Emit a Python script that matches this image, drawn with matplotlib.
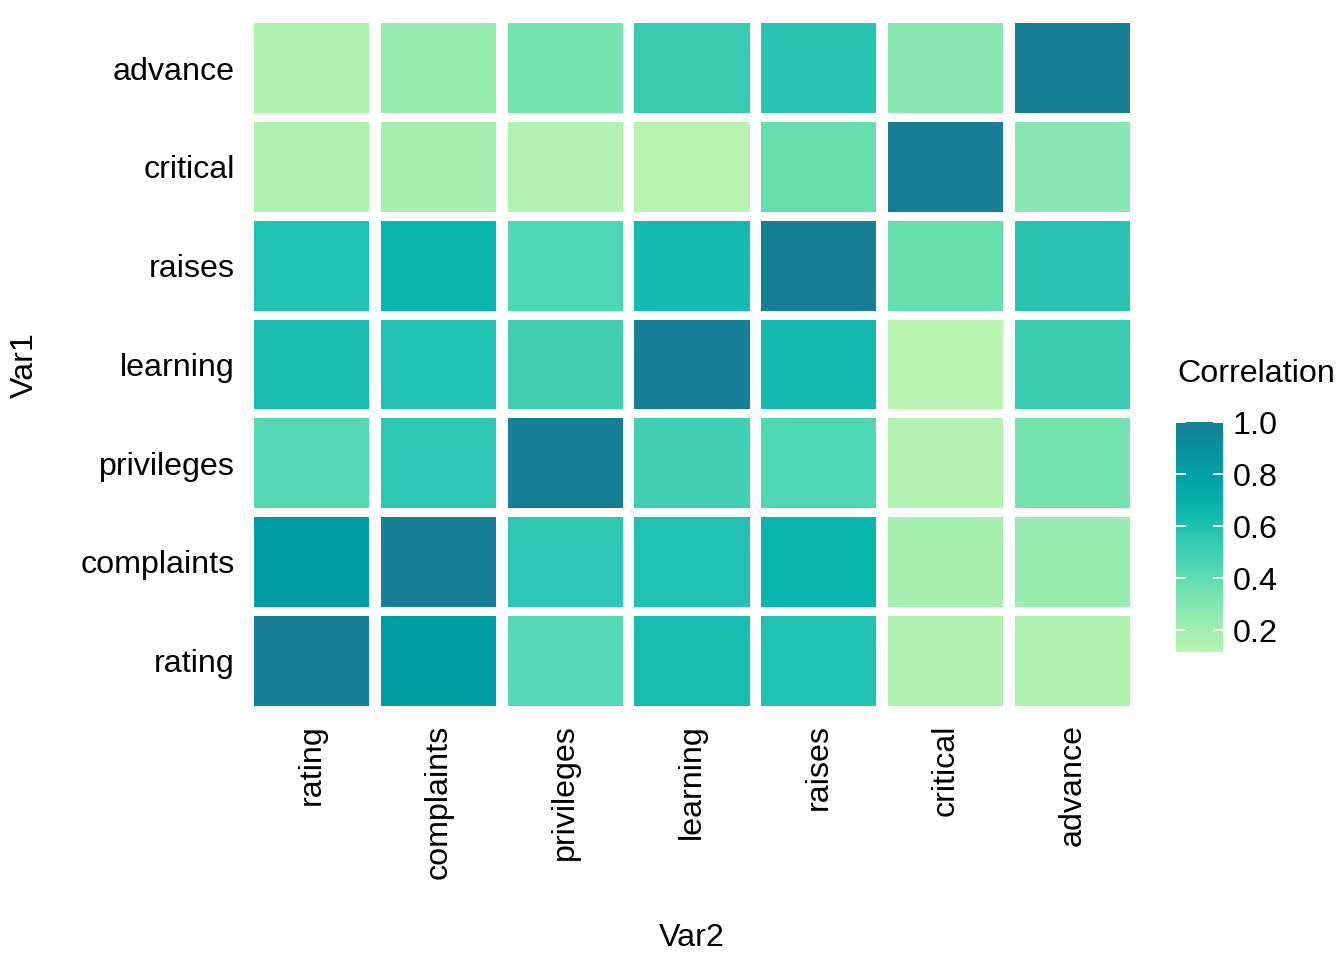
import matplotlib
matplotlib.use("Agg")
import matplotlib.pyplot as plt
from matplotlib.patches import Rectangle
from matplotlib.colors import LinearSegmentedColormap, Normalize
from matplotlib.cm import ScalarMappable

plt.rcParams['font.family'] = ['Liberation Sans', 'DejaVu Sans']

variables = ["rating", "complaints", "privileges", "learning", "raises", "critical", "advance"]

# correlation rows (Var1), columns follow `variables` (Var2)
rating     = [1.000, 0.825, 0.426, 0.624, 0.590, 0.156, 0.155]
complaints = [0.825, 1.000, 0.558, 0.597, 0.669, 0.188, 0.225]
privileges = [0.426, 0.558, 1.000, 0.493, 0.445, 0.147, 0.343]
learning   = [0.624, 0.597, 0.493, 1.000, 0.640, 0.116, 0.532]
raises     = [0.590, 0.669, 0.445, 0.640, 1.000, 0.377, 0.574]
critical   = [0.156, 0.188, 0.147, 0.116, 0.377, 1.000, 0.283]
advance    = [0.155, 0.225, 0.343, 0.532, 0.574, 0.283, 1.000]
corr = [rating, complaints, privileges, learning, raises, critical, advance]

cbar_ticks = [0.2, 0.4, 0.6, 0.8, 1.0]

vmin = min(min(r) for r in corr)
vmax = max(max(r) for r in corr)

# colour stops
stop_vals = [0.116, 0.2246, 0.343, 0.445, 0.558, 0.669, 0.825, 1.0]
stop_cols = ["#b9f3b0", "#9becb2", "#73e2af", "#4fd6b3", "#2ec6b0", "#0ab5af", "#009ca3", "#177f96"]
cmap = LinearSegmentedColormap.from_list(
    "corr", [((v - vmin) / (vmax - vmin), c) for v, c in zip(stop_vals, stop_cols)])
norm = Normalize(vmin=vmin, vmax=vmax)

FS = 23.2
W, H = 1344, 960
fig = plt.figure(figsize=(W / 100, H / 100), dpi=100)
ax = fig.add_axes([235.4 / W, 1 - 720 / H, (1148.6 - 235.4) / W, (720 - 9) / H])

tw, th = 0.907, 0.91
for i, row in enumerate(corr):
    for j, v in enumerate(row):
        ax.add_patch(Rectangle((j + 1 - tw / 2, i + 1 - th / 2), tw, th,
                               facecolor=cmap(norm(v)), edgecolor='none'))

ax.set_xlim(0.4, 7.6)
ax.set_ylim(0.4, 7.6)
ax.set_xticks(range(1, 8))
ax.set_yticks(range(1, 8))
ax.set_xticklabels(variables, rotation=90, va='top', ha='center', fontsize=FS)
ax.set_yticklabels(variables, fontsize=FS)
ax.tick_params(axis='both', length=0, colors='black')
ax.tick_params(axis='x', pad=3.2)
ax.tick_params(axis='y', pad=0.6)
for s in ax.spines.values():
    s.set_visible(False)

fig.text(692 / W, 1 - 938 / H, "Var2", ha='center', va='center', fontsize=FS)
fig.text(25 / W, 1 - 365 / H, "Var1", ha='center', va='center', rotation=90, fontsize=FS)

# colour bar
cax = fig.add_axes([1176 / W, 1 - 652 / H, 47 / W, 230 / H])
cb = fig.colorbar(ScalarMappable(norm=norm, cmap=cmap), cax=cax, ticks=cbar_ticks)
cb.outline.set_visible(False)
cb.ax.set_yticklabels(["0.2", "0.4", "0.6", "0.8", "1.0"], fontsize=FS)
cb.ax.tick_params(length=0, pad=7)
for t in cbar_ticks:
    cax.plot([0, 0.2], [t, t], color='white', lw=1.4, transform=cax.get_yaxis_transform())
    cax.plot([0.8, 1.0], [t, t], color='white', lw=1.4, transform=cax.get_yaxis_transform())
fig.text(1177 / W, 1 - 374 / H, "Correlation", ha='left', va='center', fontsize=FS)

fig.savefig("out.png", dpi=100)
